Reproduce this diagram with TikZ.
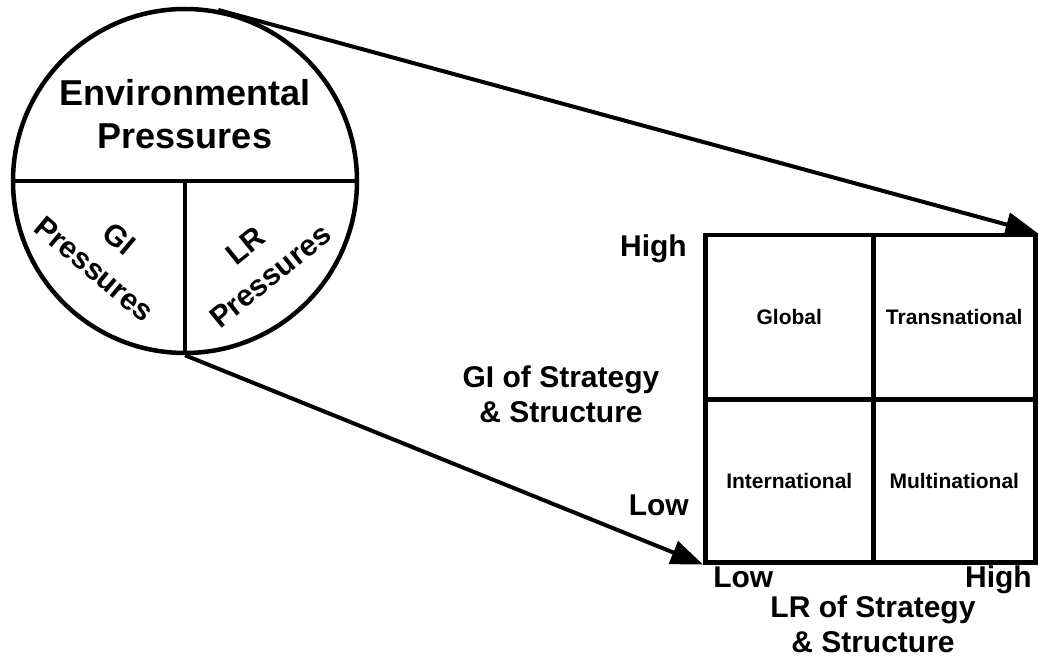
\documentclass[tikz,border=0pt]{standalone}
\usepackage{fontspec}
\setmainfont{Liberation Sans}
\usetikzlibrary{arrows.meta}
\begin{document}
\begin{tikzpicture}[x=1pt,y=-1pt, line width=4.5pt,
  lbl/.style={font=\bfseries\fontsize{30}{35}\selectfont, align=center, inner sep=0},
  plbl/.style={font=\bfseries\fontsize{30}{39}\selectfont, align=center, inner sep=0},
  cell/.style={draw, inner sep=0, font=\bfseries\fontsize{21}{25}\selectfont, anchor=north west},
  conn/.style={-{Triangle[length=32pt,width=24pt]}, line width=4pt}]
\useasboundingbox (0,0) rectangle (1039,660);
% circle
\node[draw, circle, minimum size=344pt, inner sep=0] (env) at (185,181) {};
\draw (env.west) -- (env.east);
\draw (env.center) -- (env.south);
\node[font=\bfseries\fontsize{36}{43}\selectfont, align=center, inner sep=0] (envt) at (185,114) {Environmental\\Pressures};
\node[plbl, rotate=-40] (gip) at (107,254) {GI\\Pressures};
\node[plbl, rotate=39] (lrp) at (258,261) {LR\\Pressures};
% grid
\node[cell, minimum width=168pt, minimum height=164pt] (gl) at (703,233) {Global};
\node[cell, minimum width=162pt, minimum height=164pt] (tr) at (871,233) {Transnational};
\node[cell, minimum width=168pt, minimum height=163pt] (in) at (703,397) {International};
\node[cell, minimum width=162pt, minimum height=163pt] (mu) at (871,397) {Multinational};
% axis labels
\node[lbl, anchor=base east] (yhigh) at (689,257) {High};
\node[lbl, anchor=base east] (ylow) at (691,515) {Low};
\node[lbl, anchor=base west] (xlow) at (711,587) {Low};
\node[lbl, anchor=base east] (xhigh) at (1034,587) {High};
\node[lbl] (ytitle) at (561,394) {GI of Strategy\\\& Structure};
\node[lbl] (xtitle) at (873,624) {LR of Strategy\\\& Structure};
% connectors
\draw[conn] (env.79) -- (tr.north east);
\draw[conn] (env.south) -- (in.south west);
\end{tikzpicture}
\end{document}
